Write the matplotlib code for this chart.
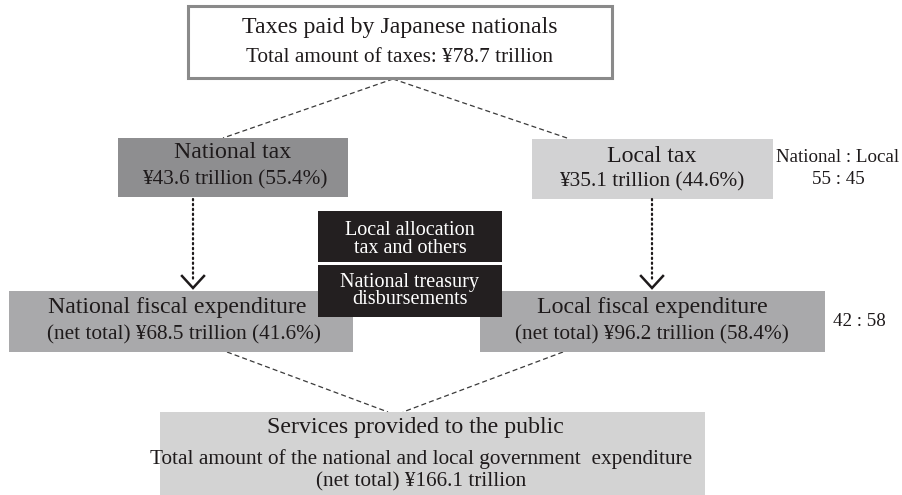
import matplotlib
matplotlib.use("Agg")
import matplotlib.pyplot as plt
from matplotlib.patches import Rectangle

plt.rcParams['font.family'] = ['Liberation Serif', 'DejaVu Serif']

# ---- data ----
total_taxes = 78.7
national_tax = 43.6
national_tax_pct = 55.4
local_tax = 35.1
local_tax_pct = 44.6
national_exp = 68.5
national_exp_pct = 41.6
local_exp = 96.2
local_exp_pct = 58.4
total_exp = 166.1
tax_ratio = (55, 45)
exp_ratio = (42, 58)
transfer_labels = ["Local allocation\ntax and others", "National treasury\ndisbursements"]

TXT = '#1e1a1b'
F1, F2, FR, FB = 17.2, 15.3, 13.7, 14.5

fig = plt.figure(figsize=(9.03, 4.95), dpi=100)
ax = fig.add_axes([0, 0, 1, 1])
ax.set_xlim(0, 903)
ax.set_ylim(495, 0)
ax.axis('off')

def box(x0, y0, x1, y1, fc, ec='none', lw=0):
    ax.add_patch(Rectangle((x0, y0), x1 - x0, y1 - y0, facecolor=fc, edgecolor=ec,
                           linewidth=lw, zorder=2, clip_on=False))

def txt(x, y, s, size, color=TXT, **kw):
    ax.text(x, y, s, ha='center', va='center', fontsize=size, color=color, zorder=5, **kw)

# dashed connectors
dash = dict(color='#3a3a3a', lw=0.9, linestyle=(0, (4, 2.5)), zorder=1)
ax.plot([393, 223], [79, 138], **dash)
ax.plot([393, 567], [79, 138], **dash)
ax.plot([227, 388], [352, 412], **dash)
ax.plot([563, 403], [352, 412], **dash)

# top box
box(188, 6, 612, 78, 'white', '#8a8a8a', 2.2)
txt(400, 28, "Taxes paid by Japanese nationals", F1)
txt(400, 57, f"Total amount of taxes: ¥{total_taxes} trillion", F2)

# tax boxes
box(118, 138, 348, 197, '#8e8e90')
txt(233, 153, "National tax", F1)
txt(235, 180, f"¥{national_tax} trillion ({national_tax_pct}%)", F2)

box(532, 139, 773, 199, '#d2d2d3')
txt(652, 156, "Local tax", F1)
txt(652, 182, f"¥{local_tax} trillion ({local_tax_pct}%)", F2)

txt(838, 158, "National : Local", FR)
txt(838, 179, f"{tax_ratio[0]} : {tax_ratio[1]}", FR)

# dotted arrows
for x in (193, 652):
    ax.plot([x, x], [199, 280], color=TXT, lw=1.6, linestyle=(0, (0.6, 1.6)),
            dash_capstyle='round', zorder=3)
    ax.plot([x - 11, x, x + 11], [276, 288, 276], color=TXT, lw=1.8, zorder=3,
            solid_joinstyle='miter')

# expenditure boxes
box(9, 291, 353, 352, '#a9a9ab')
txt(177, 307, "National fiscal expenditure", F1)
txt(184, 335, f"(net total) ¥{national_exp} trillion ({national_exp_pct}%)", F2)

box(480, 291, 825, 352, '#a9a9ab')
txt(652, 307, "Local fiscal expenditure", F1)
txt(652, 335, f"(net total) ¥{local_exp} trillion ({local_exp_pct}%)", F2)

txt(859, 322, f"{exp_ratio[0]} : {exp_ratio[1]}", FR)

# black transfer boxes
box(318, 211, 502, 262, '#231f20')
box(318, 265, 502, 317, '#231f20')
for yc, lab in zip([239.5, 291], transfer_labels):
    txt(410, yc, lab, FB, 'white', linespacing=0.88)

# bottom box
box(160, 412, 705, 496, '#d3d3d3')
txt(415, 428, "Services provided to the public", F1)
txt(421, 459, "Total amount of the national and local government  expenditure", F2)
txt(421, 482, f"(net total) ¥{total_exp} trillion", F2)

fig.savefig("out.png", dpi=100)
